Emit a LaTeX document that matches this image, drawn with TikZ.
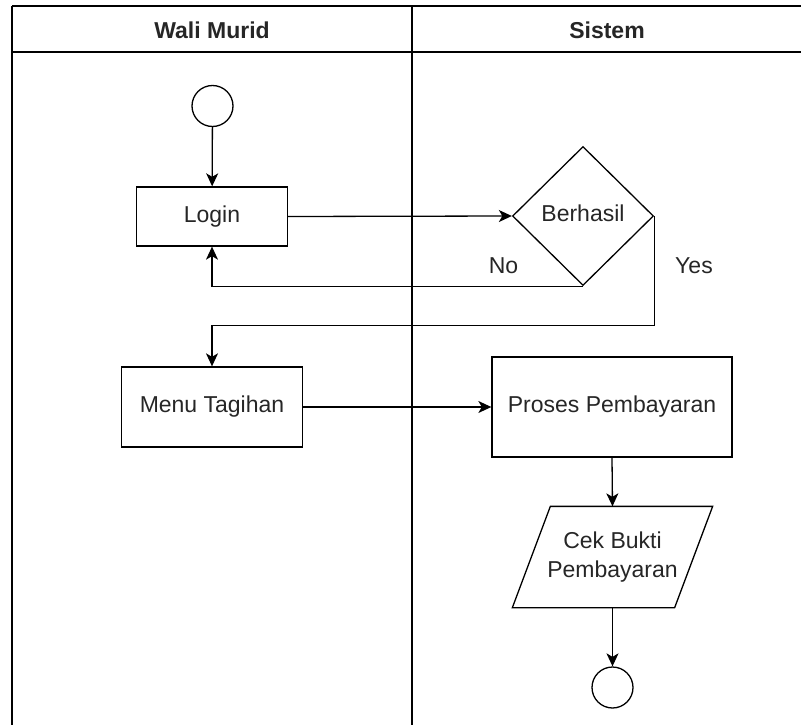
\documentclass[tikz,border=0pt]{standalone}
\usepackage{fontspec}
\setmainfont{Liberation Sans}
\usetikzlibrary{shapes.geometric,arrows.meta,calc}
\begin{document}
\begin{tikzpicture}[x=1pt,y=-1pt,
  line width=1.3pt,
  every node/.style={font=\fontsize{23}{29}\selectfont, text=black!85, text height=16.5pt, text depth=4.8pt},
  procbox/.style={draw, rectangle, inner sep=0pt, align=center},
  termnode/.style={draw, ellipse, minimum width=41pt, minimum height=41pt, inner sep=0pt},
  decide/.style={draw, diamond, inner sep=0pt, minimum width=141pt, minimum height=139pt},
  iobox/.style={rectangle, inner sep=0pt, align=center, minimum width=199pt, minimum height=100pt, text height=, text depth=},
  arr/.style={-{Stealth[length=13pt,width=12pt,inset=3.5pt]}},
  hdr/.style={font=\fontsize{23}{29}\selectfont\bfseries},
  lbl/.style={inner sep=0pt}
]
\useasboundingbox (0,0) rectangle (801,725);
\begin{scope}
\clip (0,0) rectangle (801,725);
\draw (12,6) -- (810,6);
\draw (12,52) -- (810,52);
\draw (12,6) -- (12,730);
\draw (412,6) -- (412,730);
\end{scope}

\node[hdr] (h1) at (212,32.4) {Wali Murid};
\node[hdr] (h2) at (607,32.4) {Sistem};

\node[termnode] (start) at (212.5,106) {};
\node[procbox, minimum width=151pt, minimum height=59pt] (login) at (212,216.5) {Login};
\node[decide] (dia) at (583,216) {Berhasil};
\node[lbl] (no) at (503.5,267.5) {No};
\node[lbl] (yes) at (694,267.5) {Yes};
\node[procbox, minimum width=181pt, minimum height=80pt] (menu) at (212,407) {Menu Tagihan};
\node[procbox, minimum width=240pt, minimum height=100pt] (proses) at (612,407) {Proses Pembayaran};
\node[iobox] (cek) at (612.5,557) {Cek Bukti\\Pembayaran};
\draw ($(cek.north west)+(38,0)$) -- (cek.north east) -- ($(cek.south east)+(-38,0)$) -- (cek.south west) -- cycle;
\node[termnode] (end) at (612.5,687.5) {};

\draw[arr] (start) -- (login);
\draw[arr] (login.east) -- (dia.west);
\draw[arr] (dia.south) -| (login.south);
\draw[arr] (dia.east) |- ($(menu.north)+(0,-41)$) -- (menu.north);
\draw[arr] (menu.east) -- (proses.west);
\draw[arr] (proses.south) -- (cek.north);
\draw[arr] (cek.south) -- (end.north);
\end{tikzpicture}
\end{document}
